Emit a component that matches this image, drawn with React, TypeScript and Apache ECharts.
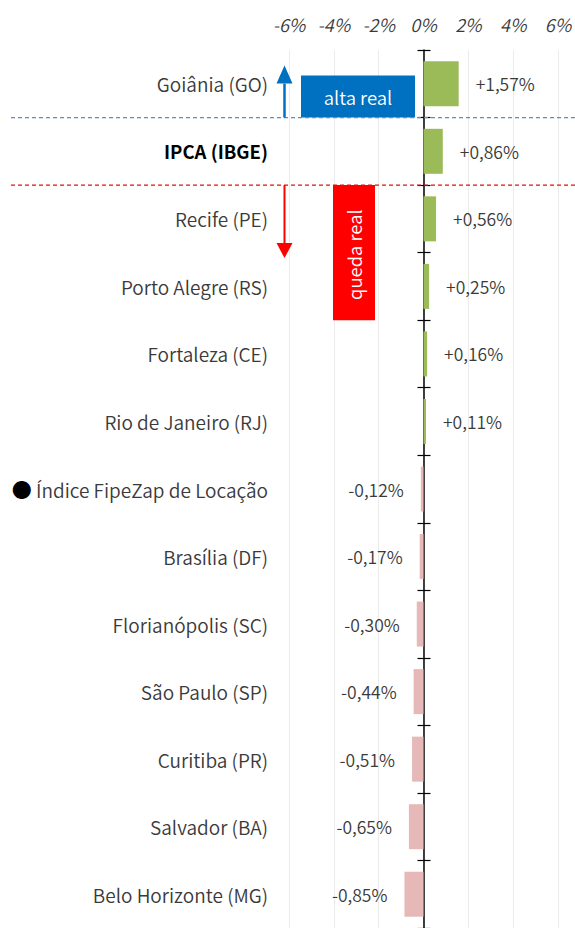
import React, { useEffect, useRef } from "react";
import * as echarts from "echarts";

const categories = [
  "Goiânia (GO)",
  "IPCA (IBGE)",
  "Recife (PE)",
  "Porto Alegre (RS)",
  "Fortaleza (CE)",
  "Rio de Janeiro (RJ)",
  "Índice FipeZap de Locação",
  "Brasília (DF)",
  "Florianópolis (SC)",
  "São Paulo (SP)",
  "Curitiba (PR)",
  "Salvador (BA)",
  "Belo Horizonte (MG)",
];
const values = [1.57, 0.86, 0.56, 0.25, 0.16, 0.11, -0.12, -0.17, -0.3, -0.44, -0.51, -0.65, -0.85];
const xTicks = [-6, -4, -2, 0, 2, 4, 6];
const BOLD_CAT = "IPCA (IBGE)";
const DOT_CAT = "Índice FipeZap de Locação";

const FONT = "'Noto Sans CJK JP', 'Noto Sans', sans-serif";
const TEXT = "#3A3A3A";
const POS = "#9BBB59";
const NEG = "#E6B8B7";
const BLUE = "#0070C0";
const RED = "#FF0000";
const W = 350;

function fmt(v: number) {
  const s = Math.abs(v).toFixed(2).replace(".", ",") + "%";
  return (v >= 0 ? "+" : "-") + s;
}

export default function App() {
  const ref = useRef<HTMLDivElement>(null);
  useEffect(() => {
    document.body.style.margin = "0";
    document.body.style.overflow = "hidden";
    const chart = echarts.init(ref.current!, undefined, { renderer: "svg" });
    const catAxisBase = {
      type: "category" as const,
      data: categories,
      inverse: true,
      position: "left" as const,
    };
    chart.setOption({
      animation: false,
      textStyle: { fontFamily: FONT },
      grid: { left: 289, right: 17, top: 50, height: 880 },
      xAxis: {
        type: "value",
        position: "top",
        min: xTicks[0],
        max: xTicks[xTicks.length - 1],
        interval: 2,
        axisLine: { show: false },
        axisTick: { show: false },
        splitLine: { show: true, lineStyle: { color: "#EBEBEB", width: 1 } },
        axisLabel: {
          formatter: (v: number) => `${v}%`,
          fontStyle: "italic",
          fontWeight: W,
          fontSize: 18,
          color: TEXT,
          fontFamily: FONT,
          margin: 17,
        },
      },
      yAxis: [
        {
          ...catAxisBase,
          axisLine: { show: false, onZero: false },
          axisTick: { show: false },
          axisLabel: {
            margin: 21,
            fontSize: 19,
            fontWeight: W,
            color: TEXT,
            fontFamily: FONT,
            formatter: (v: string) =>
              v === BOLD_CAT ? `{b|${v}}` : v === DOT_CAT ? `{d|●} ${v}` : v,
            rich: {
              b: { fontWeight: "bold", color: "#000", fontSize: 18.5, fontFamily: FONT },
              d: { color: "#000", fontSize: 20, fontFamily: FONT },
            },
          },
        },
        {
          ...catAxisBase,
          axisLine: { show: true, onZero: true, onZeroAxisIndex: 0, lineStyle: { color: "#000", width: 1.5 } },
          axisTick: { show: true, inside: false, length: 6, lineStyle: { color: "#000", width: 1.2 } },
          axisLabel: { show: false },
        },
        {
          ...catAxisBase,
          axisLine: { show: false, onZero: true, onZeroAxisIndex: 0 },
          axisTick: { show: true, inside: true, length: 7, lineStyle: { color: "#000", width: 1.2 } },
          axisLabel: { show: false },
        },
      ],
      series: [
        {
          type: "bar",
          yAxisIndex: 0,
          barWidth: 45,
          data: values.map((v) => ({
            value: v,
            itemStyle: { color: v >= 0 ? POS : NEG },
            label: { position: v >= 0 ? "right" : "left" },
          })),
          label: {
            show: true,
            distance: 17,
            fontSize: 17.5,
            fontWeight: W,
            color: TEXT,
            fontFamily: FONT,
            formatter: (p: any) => fmt(p.value),
          },
        },
      ],
    });

    const c0 = chart.convertToPixel({ yAxisIndex: 0 }, categories[0]) as number;
    const c1 = chart.convertToPixel({ yAxisIndex: 0 }, categories[1]) as number;
    const c2 = chart.convertToPixel({ yAxisIndex: 0 }, categories[2]) as number;
    const band = c1 - c0;
    const yBlue = (c0 + c1) / 2;
    const yRed = (c1 + c2) / 2;
    const yRedEnd = yRed + 2 * band;
    const ax = 284.5;

    chart.setOption({
      graphic: [
        {
          type: "line",
          shape: { x1: 11, y1: yBlue, x2: 575, y2: yBlue },
          style: { stroke: "#5A8AD2", lineWidth: 1.2, lineDash: [4, 3] },
          z: 10,
        },
        {
          type: "line",
          shape: { x1: 11, y1: yRed, x2: 575, y2: yRed },
          style: { stroke: "#E01010", lineWidth: 1.2, lineDash: [4, 3] },
          z: 10,
        },
        {
          type: "rect",
          shape: { x: 301, y: yBlue - 42, width: 114, height: 42 },
          style: { fill: BLUE },
          z: 9,
        },
        {
          type: "text",
          x: 358,
          y: yBlue - 21,
          style: {
            text: "alta real",
            fill: "#fff",
            font: `${W} 18.5px ${FONT}`,
            align: "center",
            verticalAlign: "middle",
          },
          z: 11,
        },
        {
          type: "line",
          shape: { x1: ax, y1: yBlue, x2: ax, y2: yBlue - 34 },
          style: { stroke: BLUE, lineWidth: 2.5 },
          z: 11,
        },
        {
          type: "polygon",
          shape: { points: [[ax - 8, yBlue - 34], [ax + 8, yBlue - 34], [ax, yBlue - 52]] },
          style: { fill: BLUE },
          z: 11,
        },
        {
          type: "rect",
          shape: { x: 333, y: yRed, width: 42, height: yRedEnd - yRed },
          style: { fill: RED },
          z: 9,
        },
        {
          type: "text",
          x: 354,
          y: (yRed + yRedEnd) / 2 + 2,
          rotation: Math.PI / 2,
          style: {
            text: "queda real",
            fill: "#fff",
            font: `${W} 18.5px ${FONT}`,
            align: "center",
            verticalAlign: "middle",
          },
          z: 11,
        },
        {
          type: "line",
          shape: { x1: ax, y1: yRed, x2: ax, y2: yRed + 58 },
          style: { stroke: RED, lineWidth: 2 },
          z: 11,
        },
        {
          type: "polygon",
          shape: { points: [[ax - 8, yRed + 58], [ax + 8, yRed + 58], [ax, yRed + 73]] },
          style: { fill: RED },
          z: 11,
        },
      ],
    });
    return () => chart.dispose();
  }, []);
  return <div ref={ref} style={{ width: 575, height: 928 }} />;
}
